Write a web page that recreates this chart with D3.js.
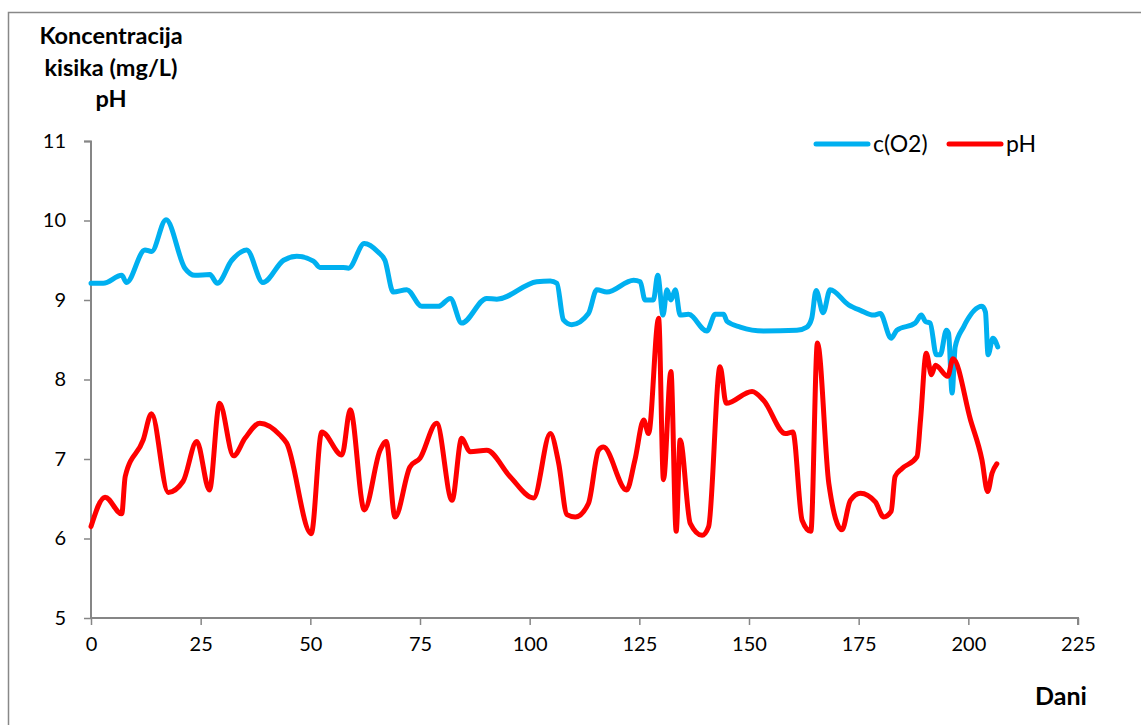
<!DOCTYPE html>
<html><head><meta charset="utf-8">
<script src="https://cdn.jsdelivr.net/npm/d3@7"></script>
<style>html,body{margin:0;padding:0;background:#fff;overflow:hidden}</style>
</head><body><svg id="c" width="1141" height="725"></svg>
<script>
const xTicks = [0,25,50,75,100,125,150,175,200,225];
const yTicks = [5,6,7,8,9,10,11];
const o2Days = [0,2.8,7,8.1,12.3,13.8,17.1,21.4,23.7,27.1,28.8,32.1,35.5,39.2,43.9,46.9,50.7,52.2,57.5,58.7,62.3,65.5,67,68.9,72,75.4,79.2,81.9,84.5,90.2,92.5,101.6,104.7,106.2,107.7,109.6,113.4,115.3,117.6,123.7,125.2,126.3,128.2,129.2,130.4,131.3,132.2,133.2,134.3,136.2,140.4,142.3,144.2,145,148,153.3,160.9,163.2,164.3,165.3,166.9,168.5,172.7,175.4,178.4,179.9,182.4,183.7,187.9,189.3,190.2,191.3,192.7,193.6,195,195.5,196.3,197,198.9,203.1,203.9,204.5,205.6,206.7];
const o2Vals = [9.21,9.21,9.31,9.22,9.63,9.61,10.01,9.4,9.31,9.32,9.21,9.5,9.63,9.22,9.5,9.55,9.49,9.41,9.41,9.4,9.71,9.6,9.5,9.1,9.13,8.92,8.92,9.02,8.71,9.02,9.01,9.23,9.24,9.21,8.75,8.69,8.83,9.13,9.1,9.25,9.23,9.0,9.0,9.31,8.81,9.13,9.0,9.13,8.81,8.82,8.61,8.82,8.82,8.73,8.66,8.61,8.62,8.66,8.77,9.12,8.84,9.13,8.94,8.87,8.81,8.83,8.52,8.62,8.71,8.81,8.73,8.71,8.31,8.31,8.62,8.58,7.83,8.41,8.66,8.92,8.85,8.31,8.52,8.41];
const phDays = [0,3.2,7,7.8,11.9,13.8,17.6,21,24.1,27,29.3,32.5,35.1,38.5,43.1,44.6,50.2,52.6,57.2,59.1,62.3,65.9,67.3,69.3,72.7,75,78.8,82.3,84.5,86.4,90.2,95.5,100.9,104.7,106.6,108.5,110.4,113.4,115.7,116.8,122.1,124,126,127.1,129.4,130.5,132.2,133.4,134.3,136.6,139.3,140.8,143.4,144.8,150.7,153.3,158.3,160,162.1,164.1,165.6,168.2,171.2,173.1,175.4,178.8,180.7,182.4,183.3,184.9,188.3,189.1,190.4,191.6,192.5,195.3,196.5,200.5,203.1,204.4,205.4,206.5];
const phVals = [6.15,6.52,6.31,6.78,7.24,7.57,6.58,6.72,7.22,6.61,7.7,7.04,7.26,7.45,7.3,7.2,6.06,7.34,7.05,7.62,6.36,7.11,7.22,6.27,6.9,7.01,7.45,6.48,7.26,7.09,7.11,6.78,6.51,7.32,6.95,6.3,6.27,6.44,7.11,7.15,6.61,6.99,7.49,7.32,8.77,6.74,8.1,6.09,7.24,6.19,6.04,6.15,8.16,7.7,7.85,7.74,7.32,7.34,6.23,6.09,8.46,6.69,6.11,6.48,6.57,6.46,6.27,6.34,6.78,6.88,7.03,7.49,8.33,8.06,8.18,8.04,8.26,7.49,6.99,6.59,6.82,6.94];
const seriesNames = ["c(O2)","pH"];
const colors = ["#00B0F0","#FF0000"];

const svg = d3.select("#c");
const font = "Lato, 'Noto Sans', sans-serif";
svg.append("rect").attr("x",8.5).attr("y",12.5).attr("width",1200).attr("height",800)
  .attr("fill","none").attr("stroke","#888").attr("stroke-width",1.5);

const x = d3.scaleLinear().domain([0,225]).range([91,1078]);
const y = d3.scaleLinear().domain([5,11]).range([618,141]);

const xa = svg.append("g").attr("transform","translate(0,618)")
  .call(d3.axisBottom(x).tickValues(xTicks).tickFormat(d3.format("d")).tickSize(7).tickPadding(12));
const ya = svg.append("g").attr("transform","translate(91,0)")
  .call(d3.axisLeft(y).tickValues(yTicks).tickFormat(d3.format("d")).tickSize(7).tickPadding(18));
[xa,ya].forEach(a=>{
  a.select(".domain").attr("stroke","#868686").attr("stroke-width",2);
  a.selectAll(".tick line").attr("stroke","#868686").attr("stroke-width",1.5);
  a.selectAll("text").attr("font-family",font).attr("font-size",20).attr("fill","#000");
});
ya.select(".domain").attr("d","M-7,141.5H0V618");
xa.select(".domain").attr("d","M91,0H1078V7");

const line = d3.line().x(d=>x(d[0])).y(d=>y(d[1])).curve(d3.curveMonotoneX);
const data = [o2Days.map((d,i)=>[d,o2Vals[i]]), phDays.map((d,i)=>[d,phVals[i]])];
data.forEach((ser,i)=>{
  svg.append("path").datum(ser).attr("d",line).attr("fill","none")
    .attr("stroke",colors[i]).attr("stroke-width",5).attr("stroke-linejoin","round").attr("stroke-linecap","round");
});

// legend
const lg = [[816,873],[949,1006]];
seriesNames.forEach((n,i)=>{
  svg.append("line").attr("x1",lg[i][0]).attr("x2",lg[i][0]+52).attr("y1",144).attr("y2",144)
    .attr("stroke",colors[i]).attr("stroke-width",5).attr("stroke-linecap","round");
  svg.append("text").attr("x",lg[i][1]).attr("y",152).text(n)
    .attr("font-family",font).attr("font-size",23);
});

// titles
const t = svg.append("text").attr("font-family",font).attr("font-size",23.5).attr("font-weight","bold").attr("text-anchor","middle");
[["Koncentracija",44],["kisika (mg/L)",76],["pH",107]].forEach(([s,yy])=>
  t.append("tspan").attr("x",111).attr("y",yy).text(s));
svg.append("text").attr("x",1061).attr("y",705).attr("text-anchor","middle").attr("font-family",font)
  .attr("font-size",25).attr("font-weight","bold").text("Dani");
</script></body></html>
